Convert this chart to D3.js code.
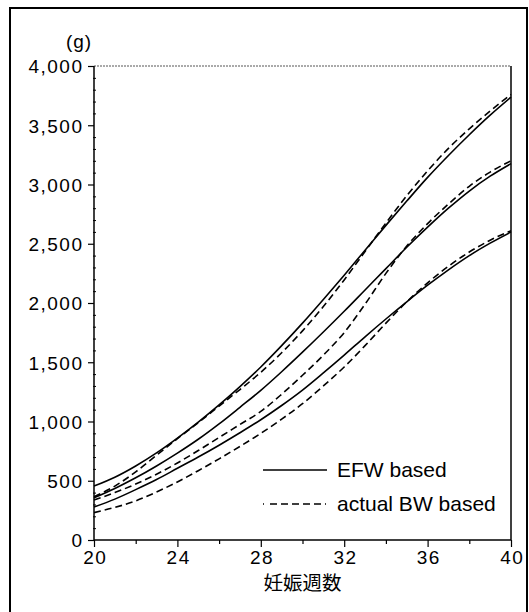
<!DOCTYPE html>
<html>
<head>
<meta charset="utf-8">
<script src="https://cdn.jsdelivr.net/npm/d3@7"></script>
<style>
html,body{margin:0;padding:0;background:#fff;}
svg{display:block;}
</style>
</head>
<body>
<svg id="chart" width="529" height="612"></svg>
<script>
const weeks = [20,21,22,23,24,25,26,27,28,29,30,31,32,33,34,35,36,37,38,39,40];
const efwUpper  = [455,530,625,735,860,995,1140,1295,1460,1640,1830,2030,2235,2445,2655,2860,3060,3245,3420,3585,3737];
const efwMiddle = [356,435,525,625,733,850,980,1120,1263,1420,1585,1755,1930,2110,2290,2470,2640,2800,2945,3070,3176];
const efwLower  = [278,345,425,510,605,700,800,905,1015,1135,1265,1410,1560,1715,1865,2010,2150,2280,2400,2505,2599];
const bwUpper   = [365,455,575,715,855,990,1130,1270,1415,1580,1765,1970,2195,2435,2675,2905,3115,3305,3470,3620,3760];
const bwMiddle  = [338,400,472,555,650,755,865,975,1085,1230,1390,1560,1750,1990,2250,2480,2670,2835,2985,3105,3200];
const bwLower   = [231,275,330,405,490,585,685,790,900,1020,1150,1300,1460,1640,1830,2010,2170,2310,2430,2530,2610];
const xMajorTicks = [20,24,28,32,36,40];
const xMinorTicks = [22,26,30,34,38];
const yMajorTicks = [0,500,1000,1500,2000,2500,3000,3500,4000];
const yUnit = "(g)";
const xTitle = "妊娠週数";
const legendLabels = ["EFW based","actual BW based"];

const svg = d3.select("#chart");
const L = 94, R = 511, T = 66, B = 540;
const x = d3.scaleLinear().domain([20,40]).range([L,R]);
const y = d3.scaleLinear().domain([0,4000]).range([B,T]);
const font = "'Liberation Sans', Arial, Helvetica, sans-serif";

// outer frame
svg.append("rect").attr("x",10).attr("y",8).attr("width",517).attr("height",700)
  .attr("fill","none").attr("stroke","#000").attr("stroke-width",2);

// plot top border (dotted thin)
svg.append("line").attr("x1",L).attr("x2",R).attr("y1",T).attr("y2",T)
  .attr("stroke","#555").attr("stroke-width",1).attr("stroke-dasharray","2,1");
// right border
svg.append("line").attr("x1",R).attr("x2",R).attr("y1",T).attr("y2",B)
  .attr("stroke","#000").attr("stroke-width",1.5);

// Y axis
const yAxis = d3.axisLeft(y).tickValues(yMajorTicks).tickSize(6).tickPadding(4.5)
  .tickFormat(d3.format(","));
const gy = svg.append("g").attr("transform",`translate(${L},0)`).call(yAxis);
gy.select(".domain").attr("stroke","#000").attr("stroke-width",1.5).attr("d",`M0,${T}V${B}`);
gy.selectAll(".tick line").attr("stroke-width",1.2);
gy.selectAll("text").attr("font-family",font).attr("font-size",19).attr("fill","#000")
  .attr("letter-spacing","1.5px").attr("dy","0.36em");
const yMinor = d3.range(100,4000,100).filter(v=>v%500!==0);
const yMinorAxis = d3.axisRight(y).tickValues(yMinor).tickSize(3).tickFormat("");
const gym = svg.append("g").attr("transform",`translate(${L-1},0)`).call(yMinorAxis);
gym.select(".domain").remove();

// X axis
const xAxis = d3.axisBottom(x).tickValues(xMajorTicks).tickSize(7).tickPadding(4)
  .tickFormat(d3.format("d"));
const gx = svg.append("g").attr("transform",`translate(0,${B})`).call(xAxis);
gx.select(".domain").attr("stroke","#000").attr("stroke-width",1.5).attr("d",`M${L},0H${R}`);
gx.selectAll(".tick line").attr("stroke-width",1.2);
gx.selectAll("text").attr("font-family",font).attr("font-size",19).attr("fill","#000")
  .attr("letter-spacing","1.5px").attr("dx","0.75px");
const xMinorAxis = d3.axisBottom(x).tickValues(xMinorTicks).tickSize(4).tickFormat("");
const gxm = svg.append("g").attr("transform",`translate(0,${B})`).call(xMinorAxis);
gxm.select(".domain").remove();
gxm.selectAll(".tick line").attr("stroke-width",1.2);

// titles
svg.append("text").attr("x",79).attr("y",48).attr("text-anchor","middle")
  .attr("font-family",font).attr("font-size",19).attr("letter-spacing","1px").text(yUnit);
svg.append("text").attr("x",(L+R)/2).attr("y",590).attr("text-anchor","middle")
  .attr("font-family","'Noto Sans CJK JP', sans-serif").attr("font-size",19.5).text(xTitle);

// curves
const line = d3.line().x((d,i)=>x(weeks[i])).y(d=>y(d)).curve(d3.curveMonotoneX);
const solids = [efwUpper, efwMiddle, efwLower];
const dashes = [bwUpper, bwMiddle, bwLower];
svg.append("g").selectAll("path").data(dashes).join("path")
  .attr("d",line).attr("fill","none").attr("stroke","#000").attr("stroke-width",1.6)
  .attr("stroke-dasharray","7,4");
svg.append("g").selectAll("path").data(solids).join("path")
  .attr("d",line).attr("fill","none").attr("stroke","#000").attr("stroke-width",1.6);

// legend
const lg = svg.append("g");
lg.append("line").attr("x1",263).attr("x2",327).attr("y1",470).attr("y2",470)
  .attr("stroke","#000").attr("stroke-width",1.5);
lg.append("line").attr("x1",263).attr("x2",327).attr("y1",504).attr("y2",504)
  .attr("stroke","#000").attr("stroke-width",1.5).attr("stroke-dasharray","1,6,7,4,7,4,7,4,7,4,7,4");
lg.selectAll("text").data(legendLabels).join("text")
  .attr("x",337).attr("y",(d,i)=>477+i*34)
  .attr("font-family",font).attr("font-size",21).attr("fill","#000").text(d=>d);
</script>
</body>
</html>
